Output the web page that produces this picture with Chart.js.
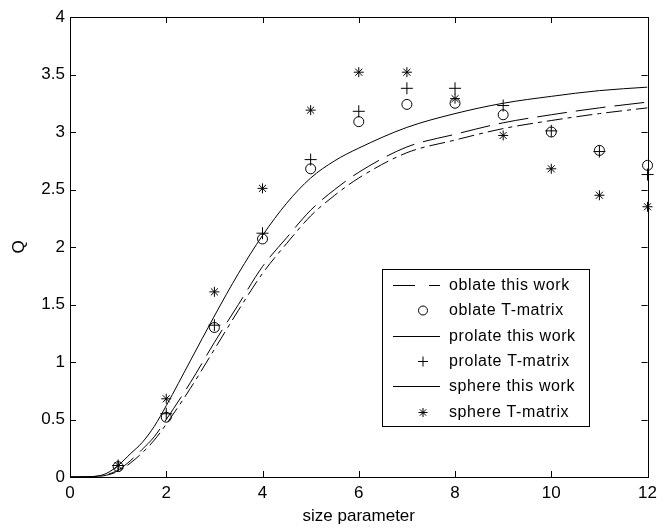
<!DOCTYPE html>
<html>
<head>
<meta charset="utf-8">
<script src="https://cdn.jsdelivr.net/npm/chart.js@4"></script>
<style>
  html, body { margin: 0; padding: 0; background: #fff; }
  #wrap { width: 663px; height: 530px; }
</style>
</head>
<body>
<div id="wrap"><canvas id="qChart" width="663" height="530"></canvas></div>
<script>
// tick values
const xTicks = [0, 2, 4, 6, 8, 10, 12];
const yTicks = [0, 0.5, 1, 1.5, 2, 2.5, 3, 3.5, 4];

// "this work" curves, sampled along size parameter
const xCurve = [0, 0.5, 0.75, 1, 1.25, 1.5, 1.75, 2, 2.5, 3, 3.5, 4, 4.5, 5, 5.5, 6, 7, 8, 9, 10, 11, 12];
const oblateWork  = [0, 0.003, 0.015, 0.05, 0.12, 0.21, 0.32, 0.46, 0.77, 1.11, 1.45, 1.77, 2.03, 2.27, 2.45, 2.60, 2.82, 2.93, 3.03, 3.10, 3.16, 3.21];
const prolateWork = [0, 0.004, 0.02, 0.06, 0.14, 0.24, 0.35, 0.50, 0.82, 1.17, 1.50, 1.83, 2.08, 2.32, 2.50, 2.65, 2.87, 2.98, 3.08, 3.15, 3.21, 3.26];
const sphereWork  = [0, 0.005, 0.03, 0.10, 0.20, 0.30, 0.44, 0.62, 1.01, 1.40, 1.77, 2.10, 2.38, 2.60, 2.75, 2.86, 3.04, 3.16, 3.25, 3.31, 3.36, 3.39];

// T-matrix points
const xPoints = [1, 2, 3, 4, 5, 6, 7, 8, 9, 10, 11, 12];
const oblateTM  = [0.09, 0.52, 1.30, 2.07, 2.68, 3.09, 3.24, 3.25, 3.15, 3.00, 2.84, 2.71];
const prolateTM = [0.10, 0.55, 1.32, 2.12, 2.76, 3.18, 3.38, 3.38, 3.23, 3.01, 2.83, 2.63];
const sphereTM  = [0.10, 0.68, 1.61, 2.51, 3.19, 3.52, 3.52, 3.29, 2.97, 2.68, 2.45, 2.35];

const pairs = (xs, ys) => xs.map((x, i) => ({ x: x, y: ys[i] }));

const lineSet = (label, ys, dash) => ({
  label: label,
  data: pairs(xCurve, ys),
  showLine: true,
  borderColor: '#000',
  borderWidth: 1,
  borderDash: dash,
  pointRadius: 0,
  cubicInterpolationMode: 'monotone'
});

const pointSet = (label, ys, style, r) => ({
  label: label,
  data: pairs(xPoints, ys),
  showLine: false,
  clip: false,
  pointStyle: style,
  pointRadius: r,
  pointBorderColor: '#000',
  pointBackgroundColor: 'rgba(0,0,0,0)',
  pointBorderWidth: 1
});

const datasets = [
  lineSet('oblate this work', oblateWork, [16, 5, 4, 5]),
  pointSet('oblate T-matrix', oblateTM, 'circle', 5),
  lineSet('prolate this work', prolateWork, [30, 9]),
  pointSet('prolate T-matrix', prolateTM, 'cross', 6),
  lineSet('sphere this work', sphereWork, []),
  pointSet('sphere T-matrix', sphereTM, 'star', 5)
];

// legend sample style per entry (prolate drawn solid in the key)
const legendDash = [[22, 14, 10, 0], null, [], null, [], null];

// inward ticks on all four sides + frame
const frame = {
  id: 'frame',
  afterDatasetsDraw(chart) {
    const ctx = chart.ctx;
    const a = chart.chartArea;
    const xs = chart.scales.x, ys = chart.scales.y;
    const len = 6;
    ctx.save();
    ctx.strokeStyle = '#000';
    ctx.lineWidth = 1;
    ctx.beginPath();
    xTicks.forEach(v => {
      const px = Math.round(xs.getPixelForValue(v)) + 0.5;
      ctx.moveTo(px, a.bottom); ctx.lineTo(px, a.bottom - len);
      ctx.moveTo(px, a.top); ctx.lineTo(px, a.top + len);
    });
    yTicks.forEach(v => {
      const py = Math.round(ys.getPixelForValue(v)) + 0.5;
      ctx.moveTo(a.left, py); ctx.lineTo(a.left + len, py);
      ctx.moveTo(a.right, py); ctx.lineTo(a.right - len, py);
    });
    ctx.stroke();
    ctx.strokeRect(Math.round(a.left) + 0.5, Math.round(a.top) + 0.5,
                   Math.round(a.right - a.left), Math.round(a.bottom - a.top));
    ctx.restore();
  }
};

// legend box in the lower right of the plot
const keyBox = {
  id: 'keyBox',
  afterDraw(chart) {
    const ctx = chart.ctx;
    const bx = 382, by = 269, bw = 207, bh = 157;
    ctx.save();
    ctx.fillStyle = '#fff';
    ctx.fillRect(bx, by, bw, bh);
    ctx.strokeStyle = '#000';
    ctx.lineWidth = 1;
    ctx.strokeRect(bx + 0.5, by + 0.5, bw, bh);
    ctx.font = '16px Arial, "Liberation Sans", sans-serif';
    ctx.textBaseline = 'middle';
    if ('letterSpacing' in ctx) ctx.letterSpacing = '0.6px';
    datasets.forEach((ds, i) => {
      const cy = Math.round(by + 16 + i * 25.3) + 0.5;
      if (ds.showLine) {
        ctx.setLineDash(legendDash[i]);
        ctx.beginPath();
        ctx.moveTo(393, cy);
        ctx.lineTo(440, cy);
        ctx.stroke();
        ctx.setLineDash([]);
      } else {
        ctx.fillStyle = 'rgba(0,0,0,0)';
        Chart.helpers.drawPoint(ctx, {
          pointStyle: ds.pointStyle,
          radius: ds.pointStyle === 'cross' ? 5 : 4.5,
          borderWidth: 1
        }, 423, cy);
      }
      ctx.fillStyle = '#000';
      ctx.fillText(ds.label, 449, cy);
    });
    ctx.restore();
  }
};

const tickFont = { family: 'Arial, "Liberation Sans", sans-serif', size: 17 };

new Chart(document.getElementById('qChart'), {
  type: 'scatter',
  data: { datasets: datasets },
  options: {
    responsive: false,
    animation: false,
    layout: { padding: { left: 0, right: 7, top: 17, bottom: 0 } },
    plugins: { legend: { display: false }, tooltip: { enabled: false } },
    scales: {
      x: {
        type: 'linear',
        min: 0, max: 12,
        afterBuildTicks: s => { s.ticks = xTicks.map(v => ({ value: v })); },
        afterFit: s => { s.height = 53; },
        grid: { display: false, drawTicks: false },
        border: { display: false },
        ticks: { color: '#000', font: tickFont, padding: 6, maxRotation: 0, callback: v => String(v) },
        title: { display: true, text: 'size parameter', color: '#000', font: tickFont, padding: { top: 3, bottom: 3 } }
      },
      y: {
        type: 'linear',
        min: 0, max: 4,
        afterBuildTicks: s => { s.ticks = yTicks.map(v => ({ value: v })); },
        afterFit: s => { s.width = 70; },
        grid: { display: false, drawTicks: false },
        border: { display: false },
        ticks: { color: '#000', font: tickFont, padding: 5, callback: v => String(v) },
        title: { display: true, text: 'Q', color: '#000', font: tickFont, padding: { top: 9, bottom: 9 } }
      }
    }
  },
  plugins: [frame, keyBox]
});
</script>
</body>
</html>
